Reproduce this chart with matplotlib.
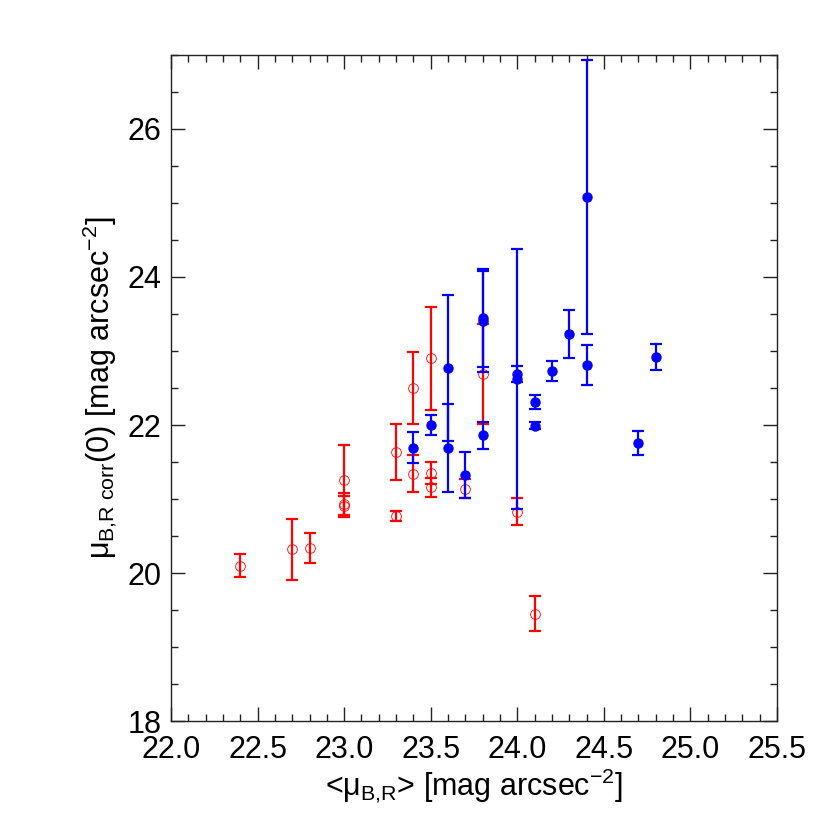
import matplotlib
matplotlib.use('Agg')
import matplotlib.pyplot as plt
from matplotlib.ticker import MultipleLocator

plt.rcParams['font.family'] = ['Liberation Sans', 'DejaVu Sans']
plt.rcParams['mathtext.fontset'] = 'custom'
plt.rcParams['mathtext.rm'] = 'Liberation Sans'
plt.rcParams['mathtext.it'] = 'Liberation Sans'
plt.rcParams['mathtext.bf'] = 'Liberation Sans'

# open red points: <mu_B,R>, mu_corr(0), error
red_x = [22.4, 22.7, 22.8, 23.0, 23.0, 23.0, 23.3, 23.3, 23.4, 23.4,
         23.5, 23.5, 23.5, 23.7, 23.8, 24.0, 24.1]
red_y = [20.10, 20.32, 20.34, 21.25, 20.93, 20.90, 21.64, 20.77, 22.50, 21.34,
         22.90, 21.35, 21.16, 21.14, 22.69, 20.83, 19.45]
red_err = [0.16, 0.41, 0.20, 0.48, 0.15, 0.14, 0.38, 0.07, 0.49, 0.25,
           0.70, 0.15, 0.13, 0.13, 0.68, 0.18, 0.24]

# filled blue points
blue_x = [23.4, 23.5, 23.6, 23.6, 23.7, 23.8, 23.8, 23.8, 24.0, 24.0,
          24.1, 24.1, 24.2, 24.3, 24.4, 24.4, 24.7, 24.8]
blue_y = [21.69, 22.00, 22.77, 21.69, 21.32, 23.45, 23.40, 21.86, 22.69, 22.62,
          22.31, 21.99, 22.73, 23.23, 25.08, 22.81, 21.76, 22.92]
blue_err = [0.21, 0.14, 0.98, 0.60, 0.31, 0.66, 0.68, 0.18, 0.11, 1.76,
            0.10, 0.05, 0.14, 0.33, 1.85, 0.27, 0.16, 0.18]

fig = plt.figure(figsize=(8.3, 8.3), dpi=100)
ax = fig.add_axes([171/830, 109/830, 606/830, 666/830])

ax.errorbar(red_x, red_y, yerr=red_err, fmt='none', ecolor='red',
            elinewidth=1.6, capsize=4.5, capthick=1.6)
ax.plot(red_x, red_y, 'o', mfc='none', mec='red', ms=7, mew=0.6)

ax.errorbar(blue_x, blue_y, yerr=blue_err, fmt='none', ecolor='blue',
            elinewidth=1.6, capsize=4.5, capthick=1.6)
ax.plot(blue_x, blue_y, 'o', color='blue', ms=6.5)

ax.set_xlim(22.0, 25.5)
ax.set_ylim(18, 27)
ax.xaxis.set_major_locator(MultipleLocator(0.5))
ax.xaxis.set_minor_locator(MultipleLocator(0.1))
ax.yaxis.set_major_locator(MultipleLocator(2))
ax.yaxis.set_minor_locator(MultipleLocator(0.5))
ax.xaxis.set_major_formatter(plt.FormatStrFormatter('%.1f'))
ax.yaxis.set_major_formatter(plt.FormatStrFormatter('%d'))

ax.tick_params(which='both', direction='in', top=True, right=True,
               color='#222222', labelsize=22)
ax.tick_params(which='major', length=10, width=1.0)
ax.tick_params(which='minor', length=5, width=1.0)
ax.tick_params(axis='x', pad=10)
ax.tick_params(axis='y', pad=7)
for s in ax.spines.values():
    s.set_linewidth(1.0)
    s.set_color('#222222')

ax.set_xlabel(r'<$\mu_{B{,}R}$> [mag arcsec$^{-2}$]', fontsize=22, labelpad=1)
ax.set_ylabel(r'$\mu_{B{,}R\ corr}$(0) [mag arcsec$^{-2}$]', fontsize=22, labelpad=6)

plt.savefig('out.png', dpi=100)
